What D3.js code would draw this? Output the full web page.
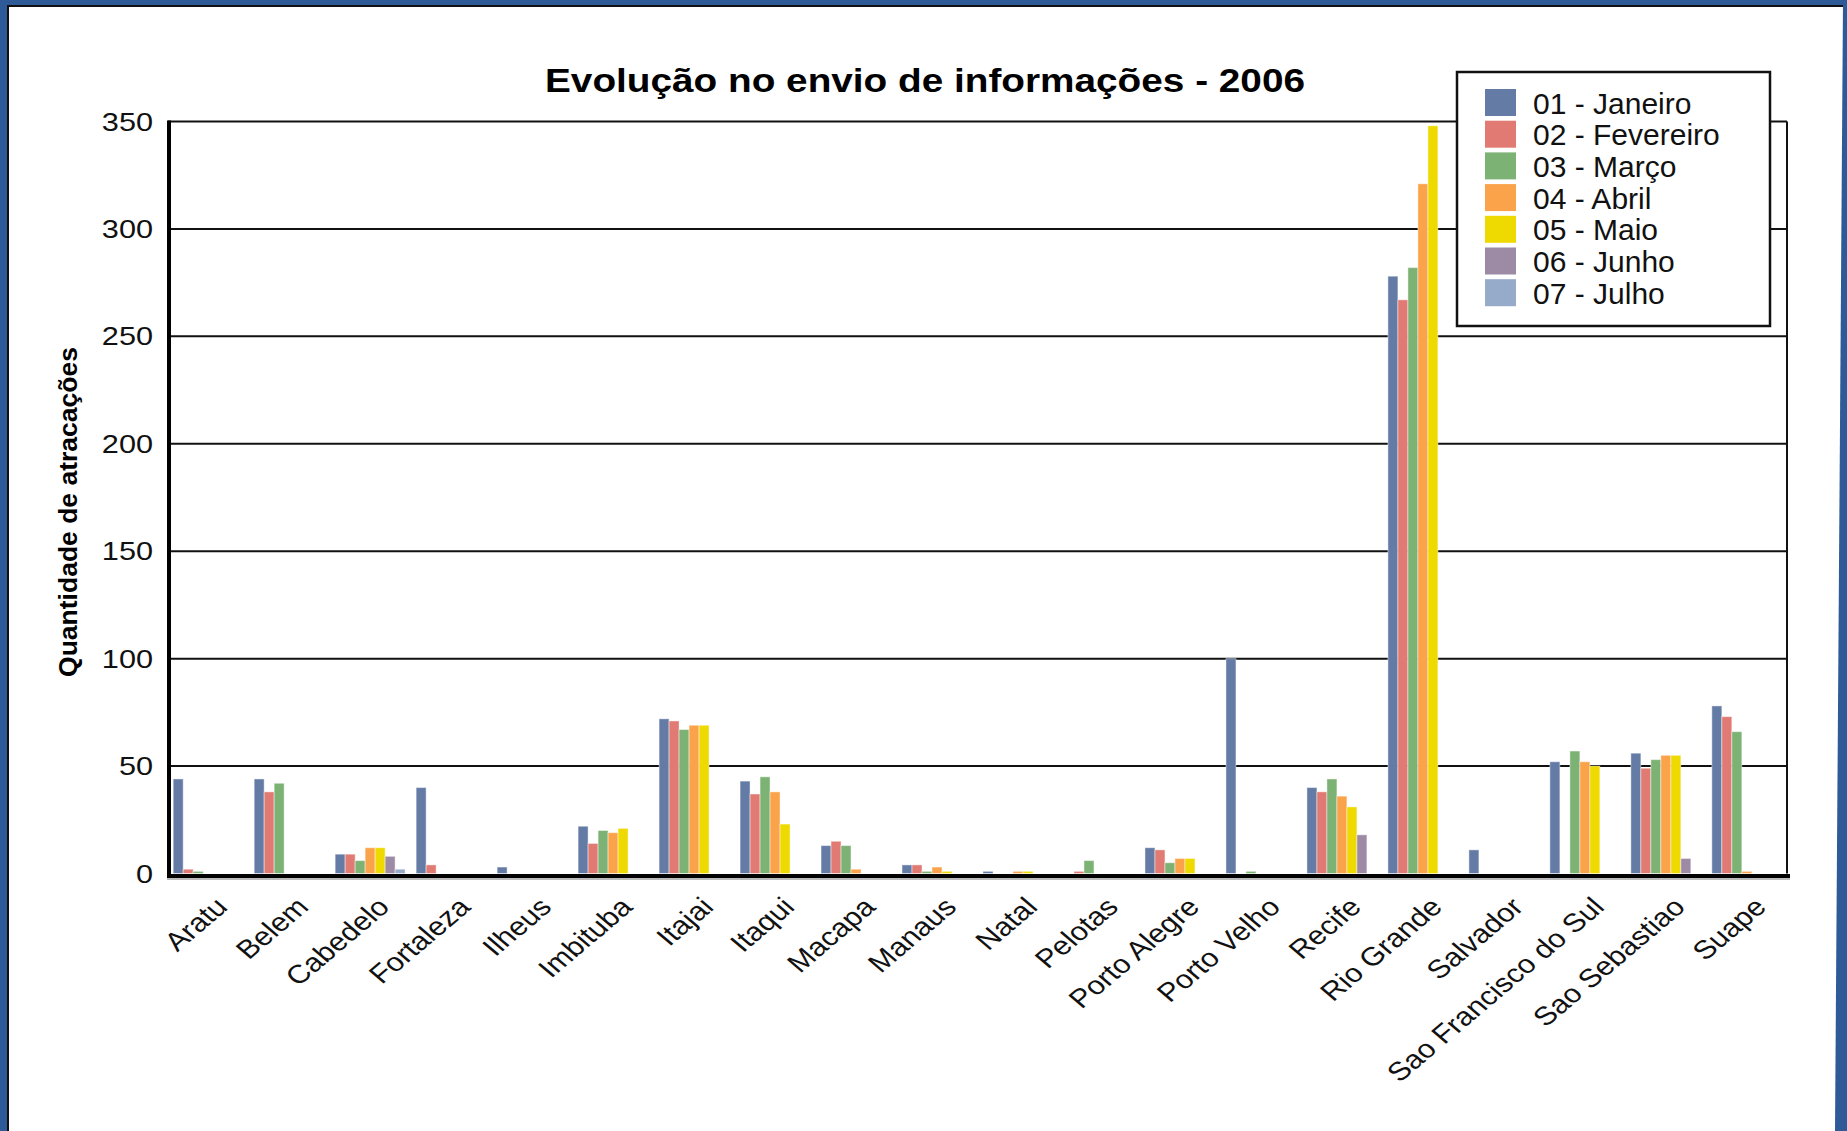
<!DOCTYPE html>
<html>
<head>
<meta charset="utf-8">
<script src="https://cdn.jsdelivr.net/npm/d3@7"></script>
<style>
	body { margin: 0; background: #fff; }
	svg { display: block; font-family: Arial, "Liberation Sans", sans-serif; }
</style>
</head>
<body>
<svg id="chart"></svg>
<script>
const ports = ["Aratu", "Belem", "Cabedelo", "Fortaleza", "Ilheus", "Imbituba", "Itajai", "Itaqui",
	"Macapa", "Manaus", "Natal", "Pelotas", "Porto Alegre", "Porto Velho", "Recife", "Rio Grande",
	"Salvador", "Sao Francisco do Sul", "Sao Sebastiao", "Suape"];
const months = ["01 - Janeiro", "02 - Fevereiro", "03 - Março", "04 - Abril", "05 - Maio", "06 - Junho", "07 - Julho"];
const monthColors = ["#647ba6", "#e07a72", "#7cb274", "#fba34a", "#eed900", "#9d8ba6", "#95abc9"];

const janeiro   = [44, 44, 9, 40, 3, 22, 72, 43, 13, 4, 1, 0, 12, 100, 40, 278, 11, 52, 56, 78];
const fevereiro = [2, 38, 9, 4, 0, 14, 71, 37, 15, 4, 0, 1, 11, 0, 38, 267, 0, 0, 49, 73];
const marco     = [1, 42, 6, 0, 0, 20, 67, 45, 13, 1, 0, 6, 5, 1, 44, 282, 0, 57, 53, 66];
const abril     = [0, 0, 12, 0, 0, 19, 69, 38, 2, 3, 1, 0, 7, 0, 36, 321, 0, 52, 55, 1];
const maio      = [0, 0, 12, 0, 0, 21, 69, 23, 0, 1, 1, 0, 7, 0, 31, 348, 0, 50, 55, 0];
const junho     = [0, 0, 8, 0, 0, 0, 0, 0, 0, 0, 0, 0, 0, 0, 18, 0, 0, 0, 7, 0];
const julho     = [0, 0, 2, 0, 0, 0, 0, 0, 0, 0, 0, 0, 0, 0, 0, 0, 0, 0, 0, 0];
const yTicks = [0, 50, 100, 150, 200, 250, 300, 350];

const series = [janeiro, fevereiro, marco, abril, maio, junho, julho];

const width = 1847;
const height = 1131;
const plot = { left: 168, right: 1787, top: 121.5, bottom: 873.5 };
const stretch = 1.18;
const blue = "#2e5a98";

const svg = d3.select("#chart")
	.attr("width", width)
	.attr("height", height);

svg.append("rect")
	.attr("width", width)
	.attr("height", height)
	.attr("fill", "#fff");

const x = d3.scaleBand()
	.domain(ports)
	.range([plot.left, plot.right])
	.paddingInner(0.136)
	.paddingOuter(0.064);
const xMonth = d3.scaleBand()
	.domain(months)
	.range([0, x.bandwidth()]);
const y = d3.scaleLinear()
	.domain([0, 350])
	.range([plot.bottom, plot.top]);
const color = d3.scaleOrdinal(months, monthColors);

// grid lines
svg.append("g")
	.selectAll("line")
	.data(yTicks.filter((d) => d > 0))
	.enter()
	.append("line")
	.attr("x1", plot.left)
	.attr("x2", plot.right)
	.attr("y1", (d) => y(d))
	.attr("y2", (d) => y(d))
	.attr("stroke", "#111")
	.attr("stroke-width", 2);
svg.append("line")
	.attr("x1", plot.right)
	.attr("x2", plot.right)
	.attr("y1", y(350))
	.attr("y2", y(0))
	.attr("stroke", "#111")
	.attr("stroke-width", 2);

const rows = ports.map((p, i) => ({
	port: p,
	values: months.map((m, j) => ({ month: m, value: series[j][i] }))
}));

const groups = svg.append("g")
	.selectAll(".group")
	.data(rows)
	.enter()
	.append("g")
	.attr("class", "group")
	.attr("transform", (d) => `translate(${x(d.port)}, 0)`);

groups.selectAll("rect")
	.data((d) => d.values.filter((v) => v.value > 0))
	.enter()
	.append("rect")
	.attr("x", (d) => xMonth(d.month))
	.attr("width", xMonth.bandwidth())
	.attr("y", (d) => y(d.value))
	.attr("height", (d) => y(0) - y(d.value))
	.attr("fill", (d) => color(d.month))
	.attr("stroke", "rgba(255,255,255,0.45)")
	.attr("stroke-width", 1);

// axes
svg.append("line")
	.attr("x1", plot.left - 1)
	.attr("x2", plot.right + 3)
	.attr("y1", y(0) + 5.5)
	.attr("y2", y(0) + 5.5)
	.attr("stroke", "#bbb")
	.attr("stroke-width", 2);
svg.append("line")
	.attr("x1", plot.left - 1)
	.attr("x2", plot.right + 3)
	.attr("y1", y(0) + 2.5)
	.attr("y2", y(0) + 2.5)
	.attr("stroke", "#000")
	.attr("stroke-width", 4);
svg.append("line")
	.attr("x1", plot.left + 1)
	.attr("x2", plot.left + 1)
	.attr("y1", y(350) - 1)
	.attr("y2", y(0) + 4)
	.attr("stroke", "#000")
	.attr("stroke-width", 4);

svg.append("g")
	.selectAll("text")
	.data(yTicks)
	.enter()
	.append("text")
	.attr("transform", (d) => `translate(153, ${y(d)}) scale(${stretch}, 1)`)
	.attr("dy", "0.35em")
	.attr("text-anchor", "end")
	.attr("font-size", 26)
	.attr("fill", "#111")
	.text((d) => d);

svg.append("g")
	.selectAll("text")
	.data(ports)
	.enter()
	.append("text")
	.attr("transform", (d) => `translate(${x(d) + x.bandwidth() / 2 + 21}, ${plot.bottom + 35}) scale(${stretch}, 1) rotate(-45)`)
	.attr("text-anchor", "end")
	.attr("font-size", 26)
	.attr("fill", "#111")
	.text((d) => d);

svg.append("text")
	.attr("transform", "translate(77, 512) rotate(-90)")
	.attr("text-anchor", "middle")
	.attr("font-size", 26.5)
	.attr("font-weight", "bold")
	.attr("fill", "#000")
	.text("Quantidade de atracações");

svg.append("text")
	.attr("x", 545)
	.attr("y", 92)
	.attr("font-size", 33)
	.attr("font-weight", "bold")
	.attr("fill", "#000")
	.attr("textLength", 760)
	.attr("lengthAdjust", "spacingAndGlyphs")
	.text("Evolução no envio de informações - 2006");

// legend
const legend = svg.append("g")
	.attr("transform", "translate(1457, 72)");
legend.append("rect")
	.attr("width", 313)
	.attr("height", 254)
	.attr("fill", "#fff")
	.attr("stroke", "#111")
	.attr("stroke-width", 2.5);
const items = legend.selectAll(".item")
	.data(months)
	.enter()
	.append("g")
	.attr("class", "item")
	.attr("transform", (d, i) => `translate(28, ${17 + i * 31.7})`);
items.append("rect")
	.attr("width", 31)
	.attr("height", 27)
	.attr("fill", (d) => color(d));
items.append("text")
	.attr("x", 48)
	.attr("y", 24.5)
	.attr("font-size", 30)
	.attr("fill", "#111")
	.text((d) => d);

// frame
svg.append("rect")
	.attr("x", 7)
	.attr("y", 5)
	.attr("width", 2)
	.attr("height", height)
	.attr("fill", "#111");
svg.append("rect")
	.attr("x", 7)
	.attr("y", 5)
	.attr("width", width)
	.attr("height", 2)
	.attr("fill", "#111");
svg.append("rect")
	.attr("width", width)
	.attr("height", 5)
	.attr("fill", blue);
svg.append("rect")
	.attr("width", 7)
	.attr("height", height)
	.attr("fill", blue);
svg.append("polygon")
	.attr("points", `1843,0 ${width},0 ${width},${height} 1835,${height}`)
	.attr("fill", blue);
</script>
</body>
</html>
